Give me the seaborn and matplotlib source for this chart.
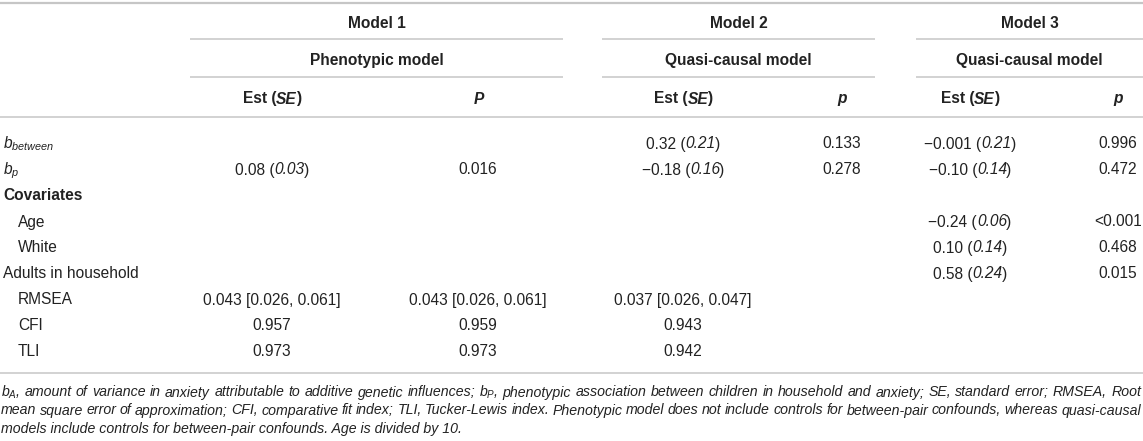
import matplotlib
matplotlib.use("Agg")
import numpy as np
import pandas as pd
import seaborn as sns
import matplotlib.pyplot as plt
from matplotlib import font_manager as fm

# ---------------- data ----------------
models = ["Model 1", "Model 2", "Model 3"]
model_types = ["Phenotypic model", "Quasi-causal model", "Quasi-causal model"]
p_headers = ["P", "p", "p"]

coef_rows = ["b_between", "b_p", "Covariates", "Age", "White", "Adults in household"]
coef_indent = [0, 0, 0, 1, 1, 0]
coef_bold = [False, False, True, False, False, False]

m1_est = ["", "0.08", "", "", "", ""]
m1_se = ["", "0.03", "", "", "", ""]
m1_p = ["", "0.016", "", "", "", ""]

m2_est = ["0.32", "\u22120.18", "", "", "", ""]
m2_se = ["0.21", "0.16", "", "", "", ""]
m2_p = ["0.133", "0.278", "", "", "", ""]

m3_est = ["\u22120.001", "\u22120.10", "", "\u22120.24", "0.10", "0.58"]
m3_se = ["0.21", "0.14", "", "0.06", "0.14", "0.24"]
m3_p = ["0.996", "0.472", "", "<0.001", "0.468", "0.015"]

fit_rows = ["RMSEA", "CFI", "TLI"]
fit_m1_est = ["0.043 [0.026, 0.061]", "0.957", "0.973"]
fit_m1_p = ["0.043 [0.026, 0.061]", "0.959", "0.973"]
fit_m2_est = ["0.037 [0.026, 0.047]", "0.943", "0.942"]

footnote_lines = [
    "$b_A$, amount of variance in anxiety attributable to additive genetic influences; "
    "$b_P$, phenotypic association between children in household and anxiety; "
    "SE, standard error; RMSEA, Root",
    "mean square error of approximation; CFI, comparative fit index; TLI, Tucker-Lewis index. "
    "Phenotypic model does not include controls for between-pair confounds, whereas quasi-causal",
    "models include controls for between-pair confounds. Age is divided by 10.",
]

# ---------------- style ----------------
sns.set_theme(style="white")
plt.rcParams["font.family"] = ["Liberation Sans", "DejaVu Sans"]
plt.rcParams["mathtext.fontset"] = "custom"
plt.rcParams["mathtext.rm"] = "Liberation Sans"
plt.rcParams["mathtext.it"] = "Liberation Sans:italic"
plt.rcParams["mathtext.bf"] = "Liberation Sans:bold"

names = {f.name for f in fm.fontManager.ttflist}
if "Liberation Sans Narrow" in names:
    FOOT_FAMILY = ["Liberation Sans Narrow", "Liberation Sans"]
else:
    FOOT_FAMILY = ["Liberation Sans", "DejaVu Sans"]

TC = "#222222"
RULE = "#c6c6c6"
FS = 11.2

W, H = 1143, 441
fig = plt.figure(figsize=(W / 100, H / 100), dpi=100)
ax = fig.add_axes([0, 0, 1, 1])
ax.set_xlim(0, W)
ax.set_ylim(H, 0)
ax.set_axis_off()
renderer = fig.canvas.get_renderer()

col_x = [272, 478, 683, 842, 970, 1118]
spans = [(190, 563), (602, 875), (916, 1143)]
BASE = 5.5


def rich(x, yc, parts, ha="center", size=FS):
    arts, widths = [], []
    for s, st, wt in parts:
        t = ax.text(0, yc + BASE, s, fontsize=size, fontstyle=st, fontweight=wt,
                    va="baseline", ha="left", color=TC)
        w = t.get_window_extent(renderer).width
        if st == "italic":
            w -= 1.0
        widths.append(w)
        arts.append(t)
    total = sum(widths)
    x0 = x - total / 2 if ha == "center" else x
    for t, w in zip(arts, widths):
        t.set_x(x0)
        x0 += w


def width_of(s, **kw):
    t = ax.text(0, 0, s, **kw)
    w = t.get_window_extent(renderer).width
    t.remove()
    return w


# rules
ax.hlines(3, 0, W, color=RULE, lw=1.6)
for y in (39, 77):
    for a, b in spans:
        ax.hlines(y, a, b, color=RULE, lw=1.1)
ax.hlines(117, 0, W, color=RULE, lw=1.1)
ax.hlines(373, 0, W, color=RULE, lw=1.1)

# headers
for k in range(3):
    cx = (spans[k][0] + spans[k][1]) / 2
    rich(cx, 22, [(models[k], "normal", "bold")])
    rich(cx, 59, [(model_types[k], "normal", "bold")])
    rich(col_x[2 * k], 98, [("Est (", "normal", "bold"), ("SE", "italic", "bold"),
                            (")", "normal", "bold")])
    rich(col_x[2 * k + 1], 98, [(p_headers[k], "italic", "bold")])

# row labels
row_y0, row_dy = 143, 26
label_tex = {"b_between": r"$b_{between}$", "b_p": r"$b_p$"}
all_rows = coef_rows + fit_rows
all_indent = coef_indent + [1, 1, 1]
all_bold = coef_bold + [False, False, False]
for i, lab in enumerate(all_rows):
    yc = row_y0 + i * row_dy
    x = 18 if all_indent[i] else 3
    ax.text(x, yc + BASE, label_tex.get(lab, lab), fontsize=FS,
            fontweight="bold" if all_bold[i] else "normal",
            va="baseline", ha="left", color=TC)

# coefficient cells
est_cols = [(m1_est, m1_se, m1_p), (m2_est, m2_se, m2_p), (m3_est, m3_se, m3_p)]
for k, (est, se, pv) in enumerate(est_cols):
    for i in range(len(coef_rows)):
        yc = row_y0 + i * row_dy
        if est[i]:
            rich(col_x[2 * k], yc, [(est[i] + " (", "normal", "normal"),
                                    (se[i], "italic", "normal"),
                                    (")", "normal", "normal")])
        if pv[i]:
            rich(col_x[2 * k + 1], yc, [(pv[i], "normal", "normal")])

# fit indices
for j, vals in enumerate([fit_m1_est, fit_m1_p, fit_m2_est]):
    for i, v in enumerate(vals):
        yc = row_y0 + (len(coef_rows) + i) * row_dy
        rich(col_x[j], yc, [(v, "normal", "normal")])

# footnote: size chosen so the first line fills the width, then justified
LEFT, RIGHT = 1, 1141
probe = dict(fontsize=10, fontstyle="italic", family=FOOT_FAMILY)
w1 = footnote_lines[0].split(" ")
sp = width_of("a a", **probe) - width_of("aa", **probe)
nat = sum(width_of(wd, **probe) for wd in w1) + sp * (len(w1) - 1)
FOOT_SIZE = min(11.5, 10 * (RIGHT - LEFT - 4) / nat)

foot_y = [392, 410, 428]
for li, line in enumerate(footnote_lines):
    yb = foot_y[li] + 4.5
    kw = dict(fontsize=FOOT_SIZE, fontstyle="italic", family=FOOT_FAMILY,
              va="baseline", ha="left", color=TC)
    if li == len(footnote_lines) - 1:
        ax.text(LEFT, yb, line, **kw)
        continue
    words = line.split(" ")
    arts, widths = [], []
    for wd in words:
        t = ax.text(0, yb, wd, **kw)
        widths.append(t.get_window_extent(renderer).width)
        arts.append(t)
    gap = (RIGHT - LEFT - sum(widths)) / (len(words) - 1)
    x = LEFT
    for t, w in zip(arts, widths):
        t.set_x(x)
        x += w + gap

fig.savefig("out.png", dpi=100)
